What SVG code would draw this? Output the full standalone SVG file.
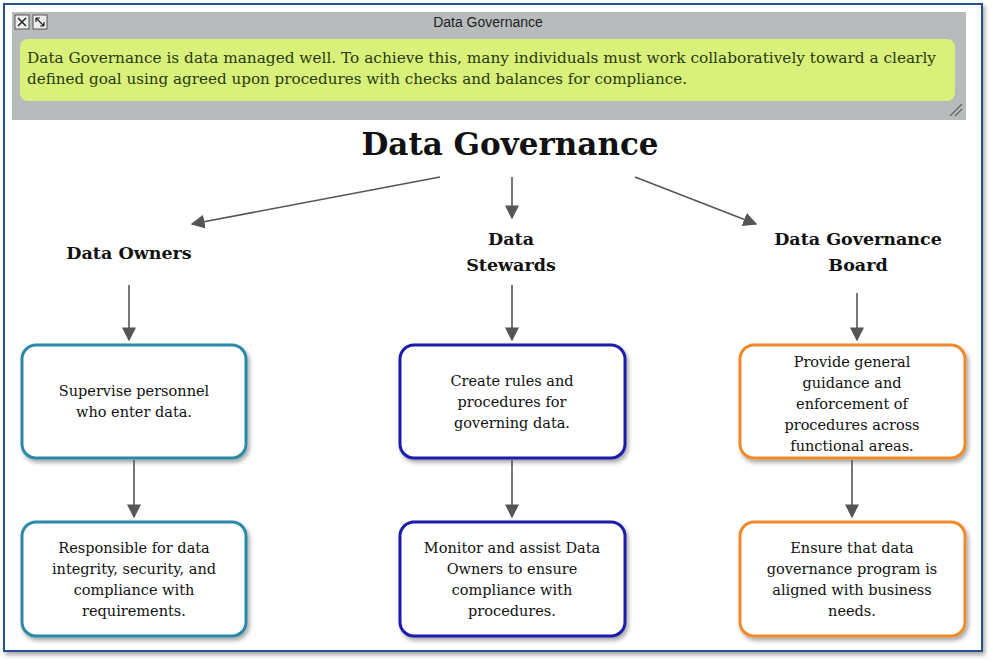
<svg xmlns="http://www.w3.org/2000/svg" width="993" height="664" viewBox="0 0 993 664">
<defs>
<marker id="ah" viewBox="0 0 10 10" refX="9" refY="5" markerWidth="14" markerHeight="14" markerUnits="userSpaceOnUse" orient="auto"><path d="M0,0 L10,5 L0,10 z" fill="#555"/></marker>
<filter id="sh" x="-10%" y="-10%" width="120%" height="130%"><feDropShadow dx="2" dy="3" stdDeviation="2" flood-color="#000" flood-opacity="0.35"/></filter>
</defs>
<style>
.t{font-family:"DejaVu Serif","Liberation Serif",serif;fill:#111;text-anchor:middle}
.n{font-size:14.5px}
.h{font-size:17.5px;font-weight:bold}
.box{fill:#fff;stroke-width:3;filter:url(#sh)}
.c{stroke:#555;stroke-width:1.6;fill:none;marker-end:url(#ah)}
</style>
<rect width="993" height="664" fill="#fff"/>
<rect x="4" y="4" width="978" height="647" fill="#fff" stroke="#2b4f8f" stroke-width="2" filter="url(#sh)"/>
<g id="header">
<rect x="12" y="12" width="954" height="108" fill="#b8bbbc"/>
<rect x="15" y="15" width="14" height="14" fill="#eee" stroke="#555"/>
<path d="M18,18 L26,26 M26,18 L18,26" stroke="#222" stroke-width="1.5"/>
<rect x="33" y="15" width="14" height="14" fill="#eee" stroke="#555"/>
<path d="M36,18 L44,26 M36,18 h4 M36,18 v4 M44,26 h-4 M44,26 v-4" stroke="#222" stroke-width="1.2"/>
<text x="488" y="27" font-family="Liberation Sans,Arial,sans-serif" font-size="14" text-anchor="middle" fill="#222">Data Governance</text>
<rect x="20" y="39" width="935" height="62" rx="8" fill="#d9f07a"/>
<text font-family="DejaVu Serif,serif" font-size="14.5" fill="#2a3a10"><tspan x="27" y="63" textLength="909" lengthAdjust="spacingAndGlyphs">Data Governance is data managed well.  To achieve this, many individuals must work collaboratively toward a clearly</tspan><tspan x="27" y="84" textLength="660" lengthAdjust="spacingAndGlyphs">defined goal using agreed upon procedures with checks and balances for compliance.</tspan></text>
<path d="M950,116 L962,104 M955,116 L962,109" stroke="#666" stroke-width="1.2"/>
</g>
<g id="title"><text class="t" x="510" y="155" font-size="31" font-weight="bold">Data Governance</text></g>
<g id="owners"><text class="t h" x="129" y="259">Data Owners</text></g>
<g id="stewards"><text class="t h"><tspan x="511" y="245">Data</tspan><tspan x="511" y="271">Stewards</tspan></text></g>
<g id="board"><text class="t h"><tspan x="858" y="245">Data Governance</tspan><tspan x="858" y="271">Board</tspan></text></g>
<g id="o1"><rect class="box" x="22" y="345" width="224" height="113" rx="14" stroke="#2a8aa5"/><text class="t n"><tspan x="134" y="396">Supervise personnel</tspan><tspan x="134" y="417">who enter data.</tspan></text></g>
<g id="o2"><rect class="box" x="22" y="522" width="224" height="114" rx="14" stroke="#2a8aa5"/><text class="t n"><tspan x="134" y="553">Responsible for data</tspan><tspan x="134" y="574">integrity, security, and</tspan><tspan x="134" y="595">compliance with</tspan><tspan x="134" y="616">requirements.</tspan></text></g>
<g id="s1"><rect class="box" x="400" y="345" width="225" height="113" rx="14" stroke="#1d1da8"/><text class="t n"><tspan x="512" y="386">Create rules and</tspan><tspan x="512" y="407">procedures for</tspan><tspan x="512" y="428">governing data.</tspan></text></g>
<g id="s2"><rect class="box" x="400" y="522" width="225" height="114" rx="14" stroke="#1d1da8"/><text class="t n"><tspan x="512" y="553">Monitor and assist Data</tspan><tspan x="512" y="574">Owners to ensure</tspan><tspan x="512" y="595">compliance with</tspan><tspan x="512" y="616">procedures.</tspan></text></g>
<g id="b1"><rect class="box" x="740" y="345" width="225" height="113" rx="14" stroke="#ee8a2a"/><text class="t n"><tspan x="852" y="367">Provide general</tspan><tspan x="852" y="388">guidance and</tspan><tspan x="852" y="409">enforcement of</tspan><tspan x="852" y="430">procedures across</tspan><tspan x="852" y="451">functional areas.</tspan></text></g>
<g id="b2"><rect class="box" x="740" y="522" width="225" height="114" rx="14" stroke="#ee8a2a"/><text class="t n"><tspan x="852" y="553">Ensure that data</tspan><tspan x="852" y="574">governance program is</tspan><tspan x="852" y="595">aligned with business</tspan><tspan x="852" y="616">needs.</tspan></text></g>
<g id="connectors">
<path class="c" d="M440,177 L192,224"/>
<path class="c" d="M512,177 L512,218"/>
<path class="c" d="M635,177 L756,224"/>
<path class="c" d="M129,285 L129,340"/>
<path class="c" d="M512,285 L512,340"/>
<path class="c" d="M857,293 L857,340"/>
<path class="c" d="M134,460 L134,517"/>
<path class="c" d="M512,460 L512,517"/>
<path class="c" d="M852,460 L852,517"/>
</g>
</svg>
